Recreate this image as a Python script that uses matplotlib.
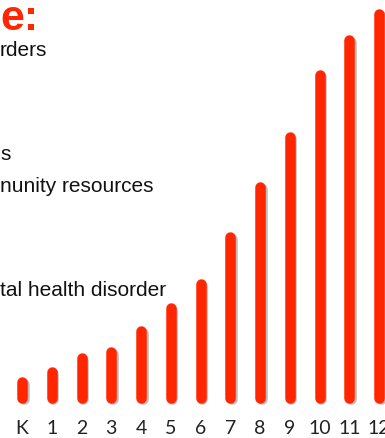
"""Slide fragment: rising bars by grade, K through 12."""

import matplotlib.pyplot as plt
import matplotlib.patheffects as pe

grades = ["K", "1", "2", "3", "4", "5", "6", "7", "8", "9", "10", "11", "12"]
values = [26, 36, 50, 56, 77, 100, 124, 171, 221, 271, 333, 368, 394]

text_lines = ["rders", "s", "nunity resources", "tal health disorder"]
text_y = [388, 283, 251, 148]

BAR_RED = "#ff2600"
BAR_W = 10.5  # px
CAP = BAR_W / 2

fig = plt.figure(figsize=(3.85, 4.38), dpi=100)
ax = fig.add_axes([0, 0, 1, 1])
ax.set_xlim(-0.74, 12.2)
ax.set_ylim(-35, 403)
ax.axis("off")

x = list(range(len(grades)))
lines = ax.vlines(x, [CAP] * len(x), [v - CAP for v in values],
                  colors=BAR_RED, linewidth=BAR_W * 72 / 100, capstyle="round")
lines.set_path_effects([pe.SimpleLineShadow(offset=(1.2, -1.2), shadow_color="#666666", alpha=0.45),
                        pe.Normal()])

for xi, g in zip(x, grades):
    ax.text(xi, -26, g, ha="center", va="center", fontsize=14,
            family="Lato", color="#222222")

# slide title fragment and bullet text
ax.text(-0.74, 404, "e:", ha="left", va="top", fontsize=31, fontweight="bold",
        family="Liberation Sans", color=BAR_RED)
for t, y in zip(text_lines, text_y):
    ax.text(-0.74, y - 35, t, ha="left", va="center", fontsize=15,
            family="Liberation Sans", color="#111111")

fig.savefig("out.png", dpi=100)
